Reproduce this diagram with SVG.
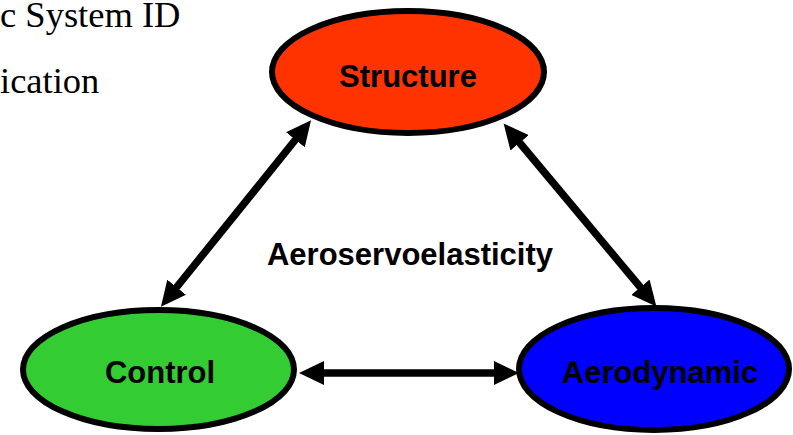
<svg xmlns="http://www.w3.org/2000/svg" width="793" height="435" viewBox="0 0 793 435">
<style>
.node{stroke:#000;stroke-width:6}
.lbl{font-family:"Liberation Sans",Arial,sans-serif;font-weight:bold;font-size:31px;fill:#000;text-anchor:middle}
.ttl{font-family:"Liberation Serif","Times New Roman",serif;font-size:36.5px;fill:#000}
.conn{stroke:#000;stroke-width:7.5;fill:none}
</style>
<defs>
<marker id="ah" markerUnits="userSpaceOnUse" markerWidth="26" markerHeight="24" refX="1" refY="12" orient="auto-start-reverse" viewBox="0 0 26 24">
<path d="M0,0 L25,12 L0,24 z" fill="#000"/>
</marker>
</defs>
<rect width="793" height="435" fill="#fff"/>
<text class="ttl" x="0" y="27">c System ID</text>
<text class="ttl" x="0" y="93">ication</text>
<g id="connectors">
<line class="conn" x1="296" y1="139" x2="176" y2="288" marker-start="url(#ah)" marker-end="url(#ah)"/>
<line class="conn" x1="519" y1="142" x2="641" y2="288" marker-start="url(#ah)" marker-end="url(#ah)"/>
<line class="conn" x1="323" y1="373" x2="495" y2="373" marker-start="url(#ah)" marker-end="url(#ah)"/>
</g>
<g id="structure">
<ellipse class="node" cx="408" cy="72" rx="136" ry="61" fill="#FF3300"/>
<text class="lbl" x="408" y="87">Structure</text>
</g>
<g id="control">
<ellipse class="node" cx="158.5" cy="369.5" rx="135.5" ry="59.5" fill="#33CC33"/>
<text class="lbl" x="160" y="383">Control</text>
</g>
<g id="aerodynamic">
<ellipse class="node" cx="654" cy="369" rx="135" ry="61" fill="#0000FF"/>
<text class="lbl" x="660" y="383">Aerodynamic</text>
</g>
<text class="lbl" x="410" y="265">Aeroservoelasticity</text>
</svg>
